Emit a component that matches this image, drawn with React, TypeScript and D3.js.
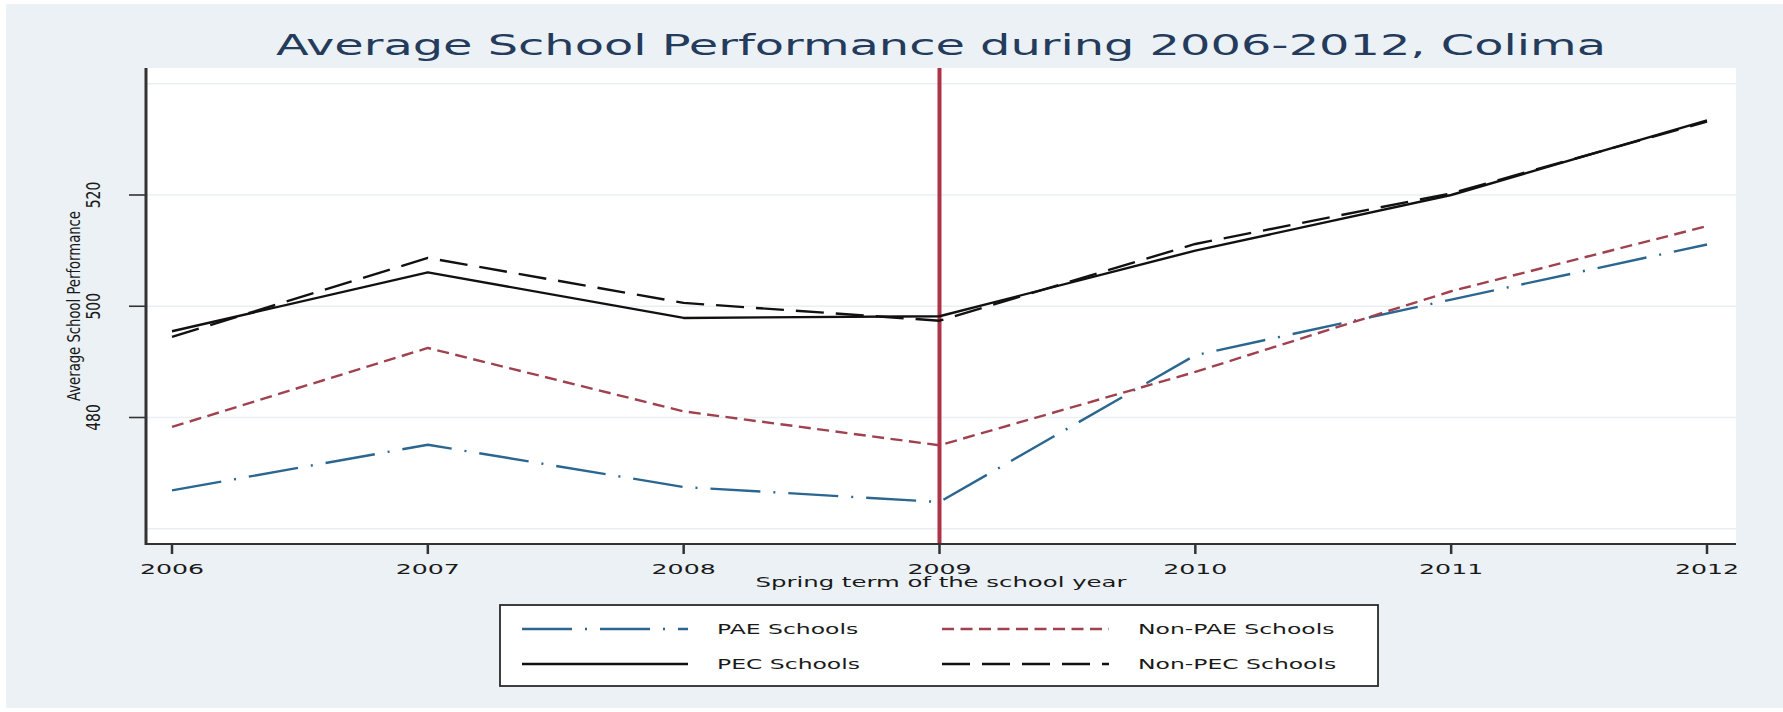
import { useRef, useEffect } from "react";
import * as d3 from "d3";

const years = [2006, 2007, 2008, 2009, 2010, 2011, 2012];
const paeSchools = [466.9, 475.1, 467.5, 464.8, 491.2, 501.2, 511.1];
const nonPaeSchools = [478.3, 492.5, 481.1, 475.0, 488.2, 502.7, 514.4];
const pecSchools = [495.5, 506.1, 497.9, 498.2, 510.0, 520.0, 533.4];
const nonPecSchools = [494.5, 508.7, 500.6, 497.4, 511.2, 520.3, 533.2];
const yTickLabels = [480, 500, 520];
const yGridValues = [460, 480, 500, 520, 540];
const cutoffYear = 2009;

const W = 1783;
const H = 712;
// the reference picture is stretched sideways, so text gets a wide x-scale
const SX = 1.74;
const SX_ROT = 1.4;
const FONT = "'DejaVu Sans', Verdana, sans-serif";

export default function App() {
  const svgRef = useRef<SVGSVGElement>(null);

  useEffect(() => {
    const svg = d3.select(svgRef.current);
    svg.selectAll("*").remove();

    const plot = { left: 146, right: 1736, top: 68, bottom: 544 };
    const x = d3.scaleLinear().domain([2006, 2012]).range([172, 1707]);
    const y = d3.scaleLinear().domain([460, 540]).range([528.75, 83.75]);

    const series = [
      { name: "PAE Schools", values: paeSchools, color: "#2a6690", dash: "50 13 2 13", width: 2.4 },
      { name: "Non-PAE Schools", values: nonPaeSchools, color: "#a0414f", dash: "12 6.5", width: 2.4 },
      { name: "PEC Schools", values: pecSchools, color: "#111111", dash: null, width: 2.4 },
      { name: "Non-PEC Schools", values: nonPecSchools, color: "#111111", dash: "28 12", width: 2.4 },
    ];

    const hText = (x0: number, y0: number, str: string, size: number, anchor: string, color = "#1a1a1a") =>
      svg
        .append("text")
        .attr("transform", `translate(${x0},${y0}) scale(${SX},1)`)
        .attr("text-anchor", anchor)
        .attr("font-family", FONT)
        .attr("font-size", size)
        .attr("fill", color)
        .text(str);

    const vText = (x0: number, y0: number, str: string, size: number) =>
      svg
        .append("text")
        .attr("transform", `translate(${x0},${y0}) rotate(-90) scale(1,${SX_ROT})`)
        .attr("text-anchor", "middle")
        .attr("dy", "0.36em")
        .attr("font-family", FONT)
        .attr("font-size", size)
        .attr("fill", "#1a1a1a")
        .text(str);

    // backgrounds
    svg.append("rect").attr("width", W).attr("height", H).attr("fill", "#ffffff");
    svg.append("rect").attr("x", 6).attr("y", 4).attr("width", W - 6).attr("height", H - 8).attr("fill", "#ebf1f4");
    svg
      .append("rect")
      .attr("x", plot.left)
      .attr("y", plot.top)
      .attr("width", plot.right - plot.left)
      .attr("height", plot.bottom - plot.top)
      .attr("fill", "#ffffff");

    // title
    hText((plot.left + plot.right) / 2, 55, "Average School Performance during 2006-2012, Colima", 27.5, "middle", "#243b5c");

    // gridlines
    svg
      .append("g")
      .selectAll("line")
      .data(yGridValues)
      .join("line")
      .attr("x1", plot.left)
      .attr("x2", plot.right)
      .attr("y1", (d) => y(d))
      .attr("y2", (d) => y(d))
      .attr("stroke", "#eaf0f2")
      .attr("stroke-width", 1.5);

    // cutoff line
    svg
      .append("line")
      .attr("x1", x(cutoffYear))
      .attr("x2", x(cutoffYear))
      .attr("y1", plot.top)
      .attr("y2", plot.bottom)
      .attr("stroke", "#ad3349")
      .attr("stroke-width", 4);

    // series
    const line = d3
      .line<number>()
      .x((_, i) => x(years[i]))
      .y((d) => y(d));

    svg
      .append("g")
      .selectAll("path")
      .data(series)
      .join("path")
      .attr("d", (s) => line(s.values))
      .attr("fill", "none")
      .attr("stroke", (s) => s.color)
      .attr("stroke-width", (s) => s.width)
      .attr("stroke-dasharray", (s) => s.dash)
      .attr("stroke-linejoin", "round");

    // axes
    const axisColor = "#333333";
    svg
      .append("line")
      .attr("x1", plot.left)
      .attr("x2", plot.left)
      .attr("y1", plot.top)
      .attr("y2", plot.bottom + 1)
      .attr("stroke", axisColor)
      .attr("stroke-width", 3);
    svg
      .append("line")
      .attr("x1", plot.left)
      .attr("x2", plot.right)
      .attr("y1", plot.bottom)
      .attr("y2", plot.bottom)
      .attr("stroke", axisColor)
      .attr("stroke-width", 2);

    svg
      .append("g")
      .selectAll("line")
      .data(yTickLabels)
      .join("line")
      .attr("x1", 129)
      .attr("x2", plot.left)
      .attr("y1", (d) => y(d))
      .attr("y2", (d) => y(d))
      .attr("stroke", axisColor)
      .attr("stroke-width", 1.6);

    svg
      .append("g")
      .selectAll("line")
      .data(years)
      .join("line")
      .attr("x1", (d) => x(d))
      .attr("x2", (d) => x(d))
      .attr("y1", plot.bottom)
      .attr("y2", plot.bottom + 10)
      .attr("stroke", axisColor)
      .attr("stroke-width", 2.5);

    yTickLabels.forEach((t) => vText(93, y(t), String(t), 14));
    vText(73, (plot.top + plot.bottom) / 2, "Average School Performance", 13.2);

    years.forEach((yr) => hText(x(yr), 573.5, String(yr), 14.5, "middle"));
    hText((plot.left + plot.right) / 2, 587, "Spring term of the school year", 14, "middle");

    // legend
    const lg = { left: 500, right: 1378, top: 605, bottom: 686 };
    svg
      .append("rect")
      .attr("x", lg.left)
      .attr("y", lg.top)
      .attr("width", lg.right - lg.left)
      .attr("height", lg.bottom - lg.top)
      .attr("fill", "#ffffff")
      .attr("stroke", "#2a2a2a")
      .attr("stroke-width", 1.8);

    const cols = [
      { x1: 522, x2: 688, tx: 717 },
      { x1: 942, x2: 1109, tx: 1138 },
    ];
    const rows = [629, 664];
    series.forEach((s, k) => {
      const c = cols[k % 2];
      const ry = rows[Math.floor(k / 2)];
      svg
        .append("line")
        .attr("x1", c.x1)
        .attr("x2", c.x2)
        .attr("y1", ry)
        .attr("y2", ry)
        .attr("stroke", s.color)
        .attr("stroke-width", s.width)
        .attr("stroke-dasharray", s.dash);
      hText(c.tx, ry + 5, s.name, 13.5, "start");
    });
  }, []);

  return (
    <svg
      ref={svgRef}
      width={W}
      height={H}
      style={{ position: "absolute", left: 0, top: 0, display: "block" }}
    ></svg>
  );
}
